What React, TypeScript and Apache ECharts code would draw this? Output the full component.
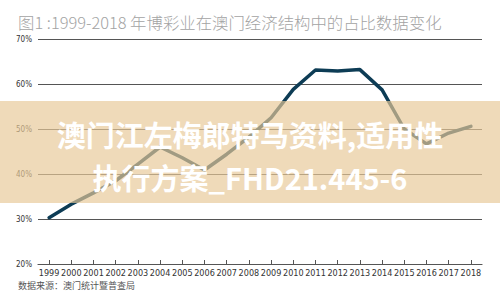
import React, { useEffect, useRef } from "react";
import * as echarts from "echarts";

const years = ["1999","2000","2001","2002","2003","2004","2005","2006","2007","2008","2009","2010","2011","2012","2013","2014","2015","2016","2017","2018"];
const shares = [30.3, 33.3, 35.8, 38.5, 42.2, 46.0, 43.6, 40.9, 44.4, 48.2, 52.5, 58.8, 63.1, 62.9, 63.2, 58.7, 50.0, 46.7, 49.1, 50.6];
const yMin = 20;
const yMax = 70;
const yStep = 10;
const titleText = "图1 :1999-2018 年博彩业在澳门经济结构中的占比数据变化";
const sourceText = "数据来源：澳门统计暨普查局";
const watermark1 = "澳门江左梅郎特马资料,适用性";
const watermark2 = "执行方案_FHD21.445-6";

export default function App() {
  const ref = useRef<HTMLDivElement>(null);
  useEffect(() => {
    if (!ref.current) return;
    const chart = echarts.init(ref.current, null, { renderer: "svg" });
    const narrow = "'Liberation Sans Narrow', 'DejaVu Sans Condensed', 'Liberation Sans', sans-serif";
    const cjk = "'Noto Sans CJK SC', sans-serif";
    chart.setOption({
      animation: false,
      backgroundColor: "#ffffff",
      grid: { left: 38, right: 18, top: 39, bottom: 43, containLabel: false },
      xAxis: {
        type: "category",
        data: years,
        boundaryGap: true,
        axisLine: { show: true, lineStyle: { color: "#555", width: 1.2 } },
        axisTick: { show: true, inside: true, alignWithLabel: true, interval: 0, length: 4, lineStyle: { color: "#555", width: 1 } },
        axisLabel: { color: "#333", fontSize: 9, fontFamily: narrow, margin: 4, interval: 0 },
        splitLine: { show: false },
      },
      yAxis: {
        type: "value",
        min: yMin,
        max: yMax,
        interval: yStep,
        axisLine: { show: false },
        axisTick: { show: false },
        axisLabel: { color: "#333", fontSize: 8, fontFamily: narrow, margin: 6, formatter: "{value}%" },
        splitLine: { show: true, lineStyle: { color: "#555", width: 1.2 } },
      },
      series: [
        {
          type: "line",
          data: shares,
          showSymbol: false,
          symbol: "none",
          lineStyle: { color: "#0d3c55", width: 3.5, join: "round", cap: "round" },
          z: 3,
        },
      ],
      graphic: [
        {
          type: "text",
          left: 18,
          top: 14,
          z: 10,
          style: { text: titleText, fill: "#a3a3a3", fontSize: 16.4, fontFamily: cjk, fontWeight: 300 },
        },
        {
          type: "text",
          left: 18,
          top: 281,
          z: 10,
          style: { text: sourceText, fill: "#555", fontSize: 9, fontFamily: cjk },
        },
        {
          type: "rect",
          z: 50,
          shape: { x: 0, y: 101, width: 500, height: 102 },
          style: { fill: "rgba(232,200,152,0.68)" },
        },
        {
          type: "text",
          z: 60,
          x: 250,
          y: 134,
          style: {
            text: watermark1,
            fill: "#ffffff",
            fontSize: 29,
            lineHeight: 30,
            fontWeight: "bold",
            fontFamily: cjk,
            align: "center",
            verticalAlign: "middle",
            shadowColor: "rgba(0,0,0,0.12)",
            shadowBlur: 2,
          },
        },
        {
          type: "text",
          z: 60,
          x: 250,
          y: 177,
          style: {
            text: watermark2,
            fill: "#ffffff",
            fontSize: 29,
            lineHeight: 30,
            fontWeight: "bold",
            fontFamily: cjk,
            align: "center",
            verticalAlign: "middle",
            shadowColor: "rgba(0,0,0,0.12)",
            shadowBlur: 2,
          },
        },
      ],
    });
    return () => chart.dispose();
  }, []);
  return <div ref={ref} style={{ position: "fixed", left: 0, top: 0, width: 500, height: 307 }} />;
}
